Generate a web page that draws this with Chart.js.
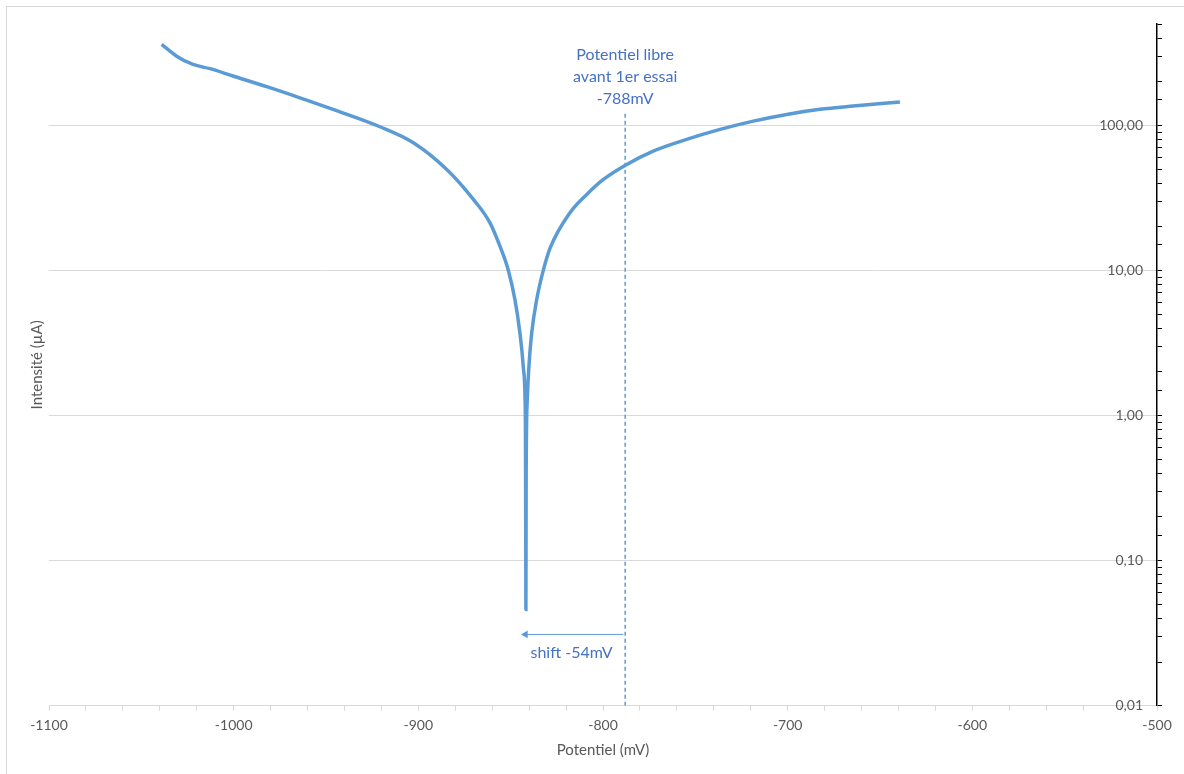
<!DOCTYPE html>
<html>
<head>
<meta charset="utf-8">
<script src="https://cdn.jsdelivr.net/npm/chart.js@4.4.1/dist/chart.umd.min.js"></script>
<style>
  html, body { margin: 0; padding: 0; background: #fff; }
  #wrap { width: 1184px; height: 774px; position: relative; }
</style>
</head>
<body>
<div id="wrap"><canvas id="tafel"></canvas></div>
<script>
// potential (mV) and current (µA)
const potential = [
  -1039.0, -1030.9, -1022.0, -1012.8, -1000.4, -982.1, -964.1, -946.2,
  -920.8, -902.7, -884.6, -870.2, -861.2, -855.8, -851.3, -847.7, -845.0, -843.2,
  -842.2, -842.0, -841.9, -841.8, -841.75, -841.6, -841.0, -840.1, -838.6,
  -835.9, -832.3, -828.7, -817.9, -808.8, -799.8, -788.1, -772.8,
  -754.7, -736.6, -718.6, -700.5, -682.5, -664.5, -639.2
];
const current = [
  362, 300, 263, 246, 219, 185, 155, 129,
  97.9, 76.0, 49.7, 30.9, 21.3, 14.7, 10.05, 6.31, 3.72, 2.19,
  1.29, 0.80, 0.30, 0.10, 0.046, 0.40, 1.29, 2.19, 3.72,
  6.31, 10.05, 14.2, 25.0, 33.4, 42.4, 53.0, 66.5,
  80.1, 93.8, 107, 119, 129, 136, 145
];

// free potential marker and shift arrow
const freePotential = -788;
const freeLineTop = 125;
const freeLabel = ['Potentiel libre', 'avant 1er essai', '-788mV'];
const shiftFrom = -789;
const shiftTo = -842;
const shiftLevel = 0.031;
const shiftLabel = 'shift -54mV';
const shiftLabelX = -817;
const shiftLabelY = 0.0233;

const yTickLabels = { '0.01': '0,01', '0.1': '0,10', '1': '1,00', '10': '10,00', '100': '100,00' };

const blue = '#5b9bd5';
const noteBlue = '#4472c4';
const grey = '#595959';

function isDecade(v) {
  const l = Math.log10(v);
  return Math.abs(l - Math.round(l)) < 1e-6;
}

const notes = {
  id: 'notes',
  beforeDraw(chart) {
    const c = chart.ctx;
    c.save();
    c.fillStyle = '#fff';
    c.fillRect(0, 0, chart.width, chart.height);
    c.strokeStyle = '#d9d9d9';
    c.lineWidth = 1;
    c.strokeRect(6.5, 6.5, chart.width + 20, chart.height + 20);
    c.restore();
  },
  afterDatasetsDraw(chart) {
    const c = chart.ctx;
    const x = chart.scales.x, y = chart.scales.y;
    c.save();
    c.fillStyle = noteBlue;
    c.font = '16px Lato';
    c.textAlign = 'center';
    c.textBaseline = 'middle';
    const px = x.getPixelForValue(freePotential);
    const top = y.getPixelForValue(freeLineTop);
    for (let i = 0; i < freeLabel.length; i++) {
      c.fillText(freeLabel[i], px, top - 12 - (freeLabel.length - 1 - i) * 22);
    }
    c.fillText(shiftLabel, x.getPixelForValue(shiftLabelX), y.getPixelForValue(shiftLabelY));
    c.restore();
  }
};

new Chart(document.getElementById('tafel'), {
  type: 'line',
  data: {
    datasets: [
      {
        data: potential.map((p, i) => ({ x: p, y: current[i] })),
        borderColor: blue,
        borderWidth: 3.5,
        pointRadius: 0,
        cubicInterpolationMode: 'monotone',
        order: 1
      },
      {
        data: [{ x: freePotential, y: 0.01 }, { x: freePotential, y: freeLineTop }],
        borderColor: blue,
        borderWidth: 1.5,
        borderDash: [4, 3],
        pointRadius: 0,
        order: 2
      },
      {
        data: [{ x: shiftFrom, y: shiftLevel }, { x: shiftTo, y: shiftLevel }],
        borderColor: blue,
        backgroundColor: blue,
        borderWidth: 1,
        pointStyle: 'triangle',
        pointRotation: -90,
        pointRadius: [0, 4.5],
        pointBorderWidth: 0,
        order: 2
      }
    ]
  },
  options: {
    responsive: true,
    maintainAspectRatio: false,
    animation: false,
    layout: { padding: { left: 25, right: 0, top: 24, bottom: 10.5 } },
    plugins: { legend: { display: false }, tooltip: { enabled: false } },
    scales: {
      x: {
        type: 'linear',
        min: -1100,
        max: -500,
        grid: { drawOnChartArea: false, color: '#d9d9d9', tickLength: 5 },
        border: { color: '#d9d9d9' },
        ticks: {
          stepSize: 20,
          autoSkip: false,
          maxRotation: 0,
          padding: 6,
          color: grey,
          font: { family: 'Lato', size: 14 },
          callback: v => (v % 100 === 0 ? String(v) : '')
        },
        title: {
          display: true,
          text: 'Potentiel (mV)',
          color: grey,
          font: { family: 'Lato', size: 15 },
          padding: { top: 2, bottom: 4 }
        }
      },
      y: {
        type: 'logarithmic',
        position: 'right',
        min: 0.01,
        max: 500,
        afterFit: s => { s.width = 27; },
        grid: {
          color: ctx => (ctx.tick && isDecade(ctx.tick.value) && ctx.tick.value < 500 ? '#d9d9d9' : 'rgba(0,0,0,0)'),
          tickColor: '#000',
          tickLength: 5
        },
        border: { color: '#000', width: 1.5 },
        ticks: {
          mirror: true,
          padding: -14,
          autoSkip: false,
          color: grey,
          font: { family: 'Lato', size: 14 },
          callback: v => (isDecade(v) ? (yTickLabels[String(+v.toPrecision(3))] || '') : '')
        }
      },
      yl: {
        type: 'linear',
        position: 'left',
        grid: { display: false, drawTicks: false },
        border: { display: false },
        ticks: { display: false },
        title: {
          display: true,
          text: 'Intensité (µA)',
          color: grey,
          font: { family: 'Lato', size: 15 },
          padding: { top: 3, bottom: 3 }
        }
      }
    }
  },
  plugins: [notes]
});
</script>
</body>
</html>
